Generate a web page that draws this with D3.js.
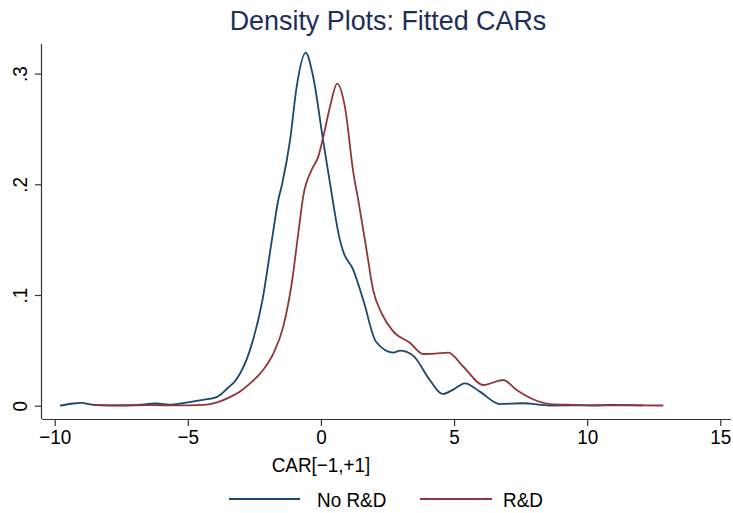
<!DOCTYPE html>
<html>
<head>
<meta charset="utf-8">
<script src="https://cdn.jsdelivr.net/npm/d3@7"></script>
<style>
  body { margin: 0; background: #fff; }
  text { font-family: "Liberation Sans", Arial, sans-serif; }
</style>
</head>
<body>
<div id="chart"></div>
<script>
// density estimates
var noRdX = [-9.8, -9.3, -9.0, -8.6, -8.0, -7.0, -6.2, -5.6, -5.0, -4.5, -3.9, -3.5, -3.2, -2.67, -2.2, -1.84, -1.6, -1.46, -1.16, -0.9, -0.57, -0.3, 0.08, 0.34, 0.71, 0.84, 1.21, 1.59, 2.07, 2.72, 2.97, 3.47, 4.09, 4.57, 5.0, 5.41, 5.97, 6.72, 7.59, 8.6, 10, 11, 12.1];
var noRdY = [0, 0.002, 0.0025, 0.001, 0.0003, 0.0005, 0.002, 0.001, 0.003, 0.005, 0.008, 0.016, 0.023, 0.05, 0.095, 0.150, 0.186, 0.200, 0.240, 0.290, 0.319, 0.298, 0.240, 0.201, 0.150, 0.139, 0.123, 0.0955, 0.0578, 0.048, 0.0497, 0.045, 0.0232, 0.0106, 0.015, 0.0202, 0.0127, 0.0015, 0.0022, 0.0002, 0.0003, 0.0008, 0.0003];

var rdX = [-8.55, -7.5, -6.5, -5.5, -4.4, -3.9, -3.4, -3.05, -2.67, -2.18, -1.79, -1.42, -1.1, -0.85, -0.66, -0.35, -0.1, 0.09, 0.34, 0.61, 0.9, 1.22, 1.4, 1.71, 1.96, 2.28, 2.72, 3.34, 3.84, 4.3, 4.78, 5.35, 6.1, 6.85, 7.35, 7.97, 8.6, 9.5, 10.5, 11.5, 12.86];
var rdY = [0.0005, 0.0002, 0.0005, 0.0003, 0.0008, 0.003, 0.008, 0.0127, 0.020, 0.032, 0.047, 0.071, 0.110, 0.156, 0.190, 0.213, 0.225, 0.243, 0.270, 0.291, 0.270, 0.210, 0.186, 0.141, 0.1045, 0.0835, 0.0669, 0.0569, 0.0467, 0.047, 0.0479, 0.0352, 0.0187, 0.0232, 0.0142, 0.0058, 0.0015, 0.0008, 0.0002, 0.0004, 0.0002];

var xTicks = [-10, -5, 0, 5, 10, 15];
var yTicks = [0, 0.1, 0.2, 0.3];
var yTickLabels = ["0", ".1", ".2", ".3"];
var seriesNames = ["No R&D", "R&D"];
var seriesColors = ["#1a476f", "#90353b"];

var width = 733,
    height = 513;

var svg = d3.select("#chart").append("svg")
    .attr("width", width)
    .attr("height", height);

var x = d3.scaleLinear().domain([-10, 15]).range([54.7, 720.3]);
var y = d3.scaleLinear().domain([0, 0.3]).range([405.7, 73.6]);

var axisColor = "#333";
var squeeze = "scale(0.9,1)";   // stata's font is a bit narrower

// title
svg.append("text")
    .attr("transform", "translate(388,30) scale(0.96,1)")
    .attr("text-anchor", "middle")
    .style("font-size", "28px")
    .style("fill", "#1e2d5a")
    .text("Density Plots: Fitted CARs");

// x axis
var xAxis = svg.append("g")
    .attr("transform", "translate(0,419)")
    .call(d3.axisBottom(x).tickValues(xTicks).tickSize(7).tickPadding(3)
        .tickFormat(function(d) { return d < 0 ? "\u2212" + Math.abs(d) : d; }));
xAxis.select(".domain").attr("d", "M42,0.5H731").attr("stroke", axisColor).attr("stroke-width", 1.2);
xAxis.selectAll(".tick line").attr("stroke", axisColor).attr("stroke-width", 1.2);
xAxis.selectAll(".tick text")
    .attr("transform", squeeze)
    .style("font-size", "21px").style("fill", "#000")
    .style("font-family", "'Liberation Sans', Arial, sans-serif");

// y axis
var yAxis = svg.append("g")
    .attr("transform", "translate(42,0)")
    .call(d3.axisLeft(y).tickValues(yTicks).tickSize(7)
        .tickFormat(function(d, i) { return yTickLabels[i]; }));
yAxis.select(".domain").attr("d", "M-0.5,44V419").attr("stroke", axisColor).attr("stroke-width", 1.2);
yAxis.selectAll(".tick line").attr("stroke", axisColor).attr("stroke-width", 1.2);
yAxis.selectAll(".tick text")
    .attr("x", 0)
    .attr("y", 0)
    .attr("dy", 0)
    .attr("transform", "translate(-15,0) rotate(-90) " + squeeze)
    .attr("text-anchor", "middle")
    .style("font-size", "21px").style("fill", "#000")
    .style("font-family", "'Liberation Sans', Arial, sans-serif");

// axis title
svg.append("text")
    .attr("transform", "translate(321,472) " + squeeze)
    .attr("text-anchor", "middle")
    .style("font-size", "21px")
    .text("CAR[\u22121,+1]");

// density lines
var line = d3.line()
    .x(function(d) { return x(d[0]); })
    .y(function(d) { return y(d[1]); })
    .curve(d3.curveMonotoneX);

var series = [d3.zip(noRdX, noRdY), d3.zip(rdX, rdY)];

svg.selectAll("path.density")
    .data(series)
  .enter().append("path")
    .attr("class", "density")
    .attr("d", line)
    .attr("fill", "none")
    .attr("stroke", function(d, i) { return seriesColors[i]; })
    .attr("stroke-width", 1.8);

// legend
var legendLines = [[229, 300], [420, 492]];
var legendText = [317, 503];
seriesNames.forEach(function(name, i) {
    svg.append("line")
        .attr("x1", legendLines[i][0]).attr("x2", legendLines[i][1])
        .attr("y1", 499).attr("y2", 499)
        .attr("stroke", seriesColors[i])
        .attr("stroke-width", 1.8);
    svg.append("text")
        .attr("transform", "translate(" + legendText[i] + ",507) " + squeeze)
        .style("font-size", "21px")
        .text(name);
});
</script>
</body>
</html>
